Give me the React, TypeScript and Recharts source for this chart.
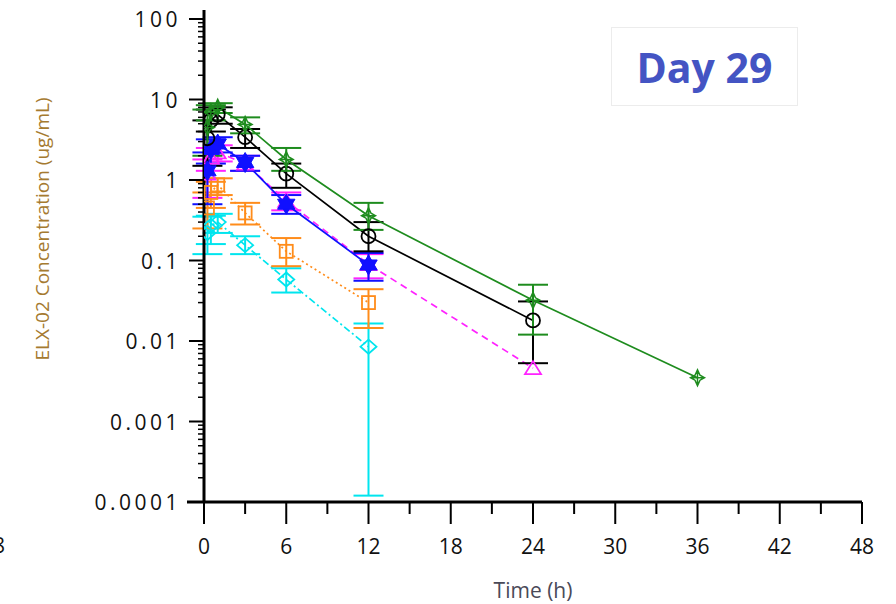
import React from 'react';
import { LineChart, Line, XAxis, YAxis, ErrorBar, Label } from 'recharts';

// sampling times (h)
const times = [0.25, 0.5, 1, 3, 6, 12, 24, 36];

// mean concentration and SD bounds per cohort (ug/mL), null = not plotted
const greenMean = [4.5, 7.0, 8.0, 4.9, 1.8, 0.36, 0.032, 0.0035];
const greenLow = [2.0, 5.5, 6.8, 3.8, 1.3, 0.24, 0.012, null];
const greenHigh = [7.5, 8.5, 9.0, 6.0, 2.5, 0.52, 0.05, null];

const blackMean = [3.3, 5.5, 6.5, 3.4, 1.2, 0.2, 0.018, null];
const blackLow = [1.5, 4.0, 5.0, 2.5, 0.8, 0.13, 0.0053, null];
const blackHigh = [5.5, 7.5, 8.0, 4.3, 1.6, 0.3, 0.031, null];

const blueMean = [1.3, 2.4, 2.8, 1.65, 0.5, 0.088, null, null];
const blueLow = [0.5, 1.6, 2.2, 1.3, 0.38, 0.056, null, null];
const blueHigh = [2.2, 3.2, 3.4, 2.0, 0.65, 0.124, null, null];

const magentaMean = [1.2, 1.9, 2.2, 1.6, 0.55, 0.09, 0.0046, null];
const magentaLow = [0.6, 1.3, 1.7, 1.3, 0.42, 0.06, null, null];
const magentaHigh = [1.8, 2.5, 2.7, 2.0, 0.7, 0.12, null, null];

const orangeMean = [0.45, 0.7, 0.87, 0.39, 0.13, 0.03, null, null];
const orangeLow = [0.25, 0.45, 0.65, 0.28, 0.085, 0.0145, null, null];
const orangeHigh = [0.7, 0.95, 1.05, 0.52, 0.19, 0.044, null, null];

const cyanMean = [0.22, 0.27, 0.3, 0.155, 0.058, 0.0085, null, null];
const cyanLow = [0.12, 0.16, 0.22, 0.12, 0.04, 0.00012, null, null];
const cyanHigh = [0.35, 0.36, 0.38, 0.2, 0.08, 0.0165, null, null];

const yMajorTicks = [0.0001, 0.001, 0.01, 0.1, 1, 10, 100];
const yTickLabels = ['0.0001', '0.001', '0.01', '0.1', '1', '10', '100'];
const xTicks = [0, 3, 6, 9, 12, 15, 18, 21, 24, 27, 30, 33, 36, 39, 42, 45, 48];

// minor log ticks (2..9 x each decade)
const yMinorTicks: number[] = [];
yMajorTicks.slice(0, -1).forEach((d) => {
    for (let m = 2; m <= 9; m++) yMinorTicks.push(d * m);
});
const yTicks = [...yMajorTicks, ...yMinorTicks].sort((a, b) => a - b);

type Shape = 'star4' | 'circle' | 'star6' | 'triangle' | 'square' | 'diamond';

const series = [
    { key: 'cyan', mean: cyanMean, low: cyanLow, high: cyanHigh, color: '#00e5ee', dash: '7 3 2 3', shape: 'diamond' as Shape },
    { key: 'orange', mean: orangeMean, low: orangeLow, high: orangeHigh, color: '#ff8c1a', dash: '2 3', shape: 'square' as Shape },
    { key: 'magenta', mean: magentaMean, low: magentaLow, high: magentaHigh, color: '#ff22ff', dash: '7 5', shape: 'triangle' as Shape },
    { key: 'blue', mean: blueMean, low: blueLow, high: blueHigh, color: '#1010ff', dash: undefined, shape: 'star6' as Shape },
    { key: 'black', mean: blackMean, low: blackLow, high: blackHigh, color: '#000000', dash: undefined, shape: 'circle' as Shape },
    { key: 'green', mean: greenMean, low: greenLow, high: greenHigh, color: '#1e8c1e', dash: undefined, shape: 'star4' as Shape },
];

const rows = times.map((t, i) => {
    const row: Record<string, any> = { time: t };
    series.forEach((s) => {
        const m = s.mean[i];
        if (m == null) return;
        row[s.key] = m;
        const lo = s.low[i];
        const hi = s.high[i];
        if (lo != null && hi != null) row[s.key + 'Err'] = [m - lo, hi - m];
    });
    return row;
});

const makeDot = (shape: Shape, color: string) => (props: any) => {
    const { cx, cy, index, value } = props;
    const k = `${shape}-${index}`;
    if (cx == null || cy == null || value == null) return <g key={k} />;
    const common = { stroke: color, strokeWidth: 1.8, fill: 'none' };
    switch (shape) {
        case 'circle':
            return <circle key={k} cx={cx} cy={cy} r={7} {...common} />;
        case 'square':
            return <rect key={k} x={cx - 6.5} y={cy - 6.5} width={13} height={13} {...common} />;
        case 'diamond':
            return <path key={k} d={`M${cx},${cy - 7}L${cx + 8},${cy}L${cx},${cy + 7}L${cx - 8},${cy}Z`} {...common} />;
        case 'triangle':
            return <path key={k} d={`M${cx},${cy - 7}L${cx + 8},${cy + 6}L${cx - 8},${cy + 6}Z`} {...common} />;
        case 'star6':
            return (
                <path
                    key={k}
                    d={`M${cx},${cy - 10}L${cx + 8.7},${cy + 5}L${cx - 8.7},${cy + 5}Z M${cx},${cy + 10}L${cx - 8.7},${cy - 5}L${cx + 8.7},${cy - 5}Z`}
                    fill={color}
                    fillRule="nonzero"
                    stroke={color}
                    strokeWidth={1}
                />
            );
        case 'star4':
        default:
            return (
                <path
                    key={k}
                    d={`M${cx},${cy - 8}L${cx + 2.5},${cy - 2.5}L${cx + 7},${cy}L${cx + 2.5},${cy + 2.5}L${cx},${cy + 8}L${cx - 2.5},${cy + 2.5}L${cx - 7},${cy}L${cx - 2.5},${cy - 2.5}Z M${cx - 7},${cy}H${cx + 7} M${cx},${cy - 8}V${cy + 8}`}
                    {...common}
                    strokeWidth={1.5}
                />
            );
    }
};

const YTick = (props: any) => {
    const { x, y, payload } = props;
    const idx = yMajorTicks.indexOf(payload.value);
    const major = idx >= 0;
    return (
        <g>
            <line x1={x - (major ? 15 : 6)} x2={x} y1={y} y2={y} stroke="#000" strokeWidth={major ? 2 : 1.5} />
            {major && (
                <text
                    x={x - 23}
                    y={y}
                    textAnchor="end"
                    dominantBaseline="central"
                    fontFamily="Open Sans"
                    fontSize={21}
                    letterSpacing={3.5}
                    fill="#111"
                >
                    {yTickLabels[idx]}
                </text>
            )}
            {payload.value === 100 && <line x1={x} x2={x} y1={y} y2={y - 9} stroke="#000" strokeWidth={3} />}
        </g>
    );
};

const XTick = (props: any) => {
    const { x, y, payload } = props;
    const v = payload.value;
    const major = v % 6 === 0;
    return (
        <g>
            <line x1={x} x2={x} y1={y} y2={y + (major ? 22 : 12)} stroke="#000" strokeWidth={2} />
            {major && (
                <text x={x} y={y + 44} textAnchor="middle" dominantBaseline="central" fontFamily="Open Sans" fontSize={21} fill="#111">
                    {v}
                </text>
            )}
            {v === 0 && <line x1={x - 17} x2={x} y1={y} y2={y} stroke="#000" strokeWidth={3} />}
        </g>
    );
};

const App: React.FC = () => {
    return (
        <div style={{ position: 'absolute', left: 0, top: 0, width: 896, height: 604, background: '#fff', overflow: 'hidden' }}>
            <LineChart width={896} height={604} data={rows} margin={{ top: 19, right: 34, bottom: 0, left: 0 }}>
                <XAxis
                    dataKey="time"
                    type="number"
                    domain={[0, 48]}
                    ticks={xTicks}
                    interval={0}
                    height={102}
                    tickSize={0}
                    tickMargin={0}
                    tickLine={false}
                    tick={<XTick />}
                    axisLine={{ stroke: '#000', strokeWidth: 3 }}
                    allowDataOverflow
                >
                    <Label
                        content={() => (
                            <text x={533} y={590} textAnchor="middle" dominantBaseline="central" fontFamily="Open Sans" fontSize={21} fill="#4a4a58">
                                Time (h)
                            </text>
                        )}
                    />
                </XAxis>
                <YAxis
                    type="number"
                    scale="log"
                    domain={[0.0001, 100]}
                    ticks={yTicks}
                    interval={0}
                    width={204}
                    tickSize={0}
                    tickMargin={0}
                    tickLine={false}
                    tick={<YTick />}
                    axisLine={{ stroke: '#000', strokeWidth: 3 }}
                    allowDataOverflow
                >
                    <Label
                        content={() => (
                            <text
                                x={42}
                                y={229}
                                transform="rotate(-90 42 229)"
                                textAnchor="middle"
                                dominantBaseline="central"
                                fontFamily="Open Sans"
                                fontSize={19}
                                fill="#a57a30"
                            >
                                ELX-02 Concentration (ug/mL)
                            </text>
                        )}
                    />
                </YAxis>
                {series.map((s) => (
                    <Line
                        key={s.key}
                        dataKey={s.key}
                        type="linear"
                        stroke={s.color}
                        strokeWidth={1.7}
                        strokeDasharray={s.dash}
                        dot={makeDot(s.shape, s.color)}
                        activeDot={false}
                        connectNulls
                        isAnimationActive={false}
                    >
                        <ErrorBar dataKey={s.key + 'Err'} direction="y" width={15} stroke={s.color} strokeWidth={2} isAnimationActive={false} />
                    </Line>
                ))}
            </LineChart>
            <div
                style={{
                    position: 'absolute',
                    left: 611,
                    top: 27,
                    width: 187,
                    height: 79,
                    border: '1px solid #ececec',
                    boxSizing: 'border-box',
                    display: 'flex',
                    alignItems: 'center',
                    justifyContent: 'center',
                    fontFamily: 'Open Sans',
                    fontWeight: 700,
                    fontSize: 41,
                    color: '#4454c3',
                    background: '#fff',
                }}
            >
                Day 29
            </div>
            <div style={{ position: 'absolute', left: -7, top: 531, fontFamily: 'Open Sans', fontSize: 21, color: '#111' }}>8</div>
        </div>
    );
};

export default App;
